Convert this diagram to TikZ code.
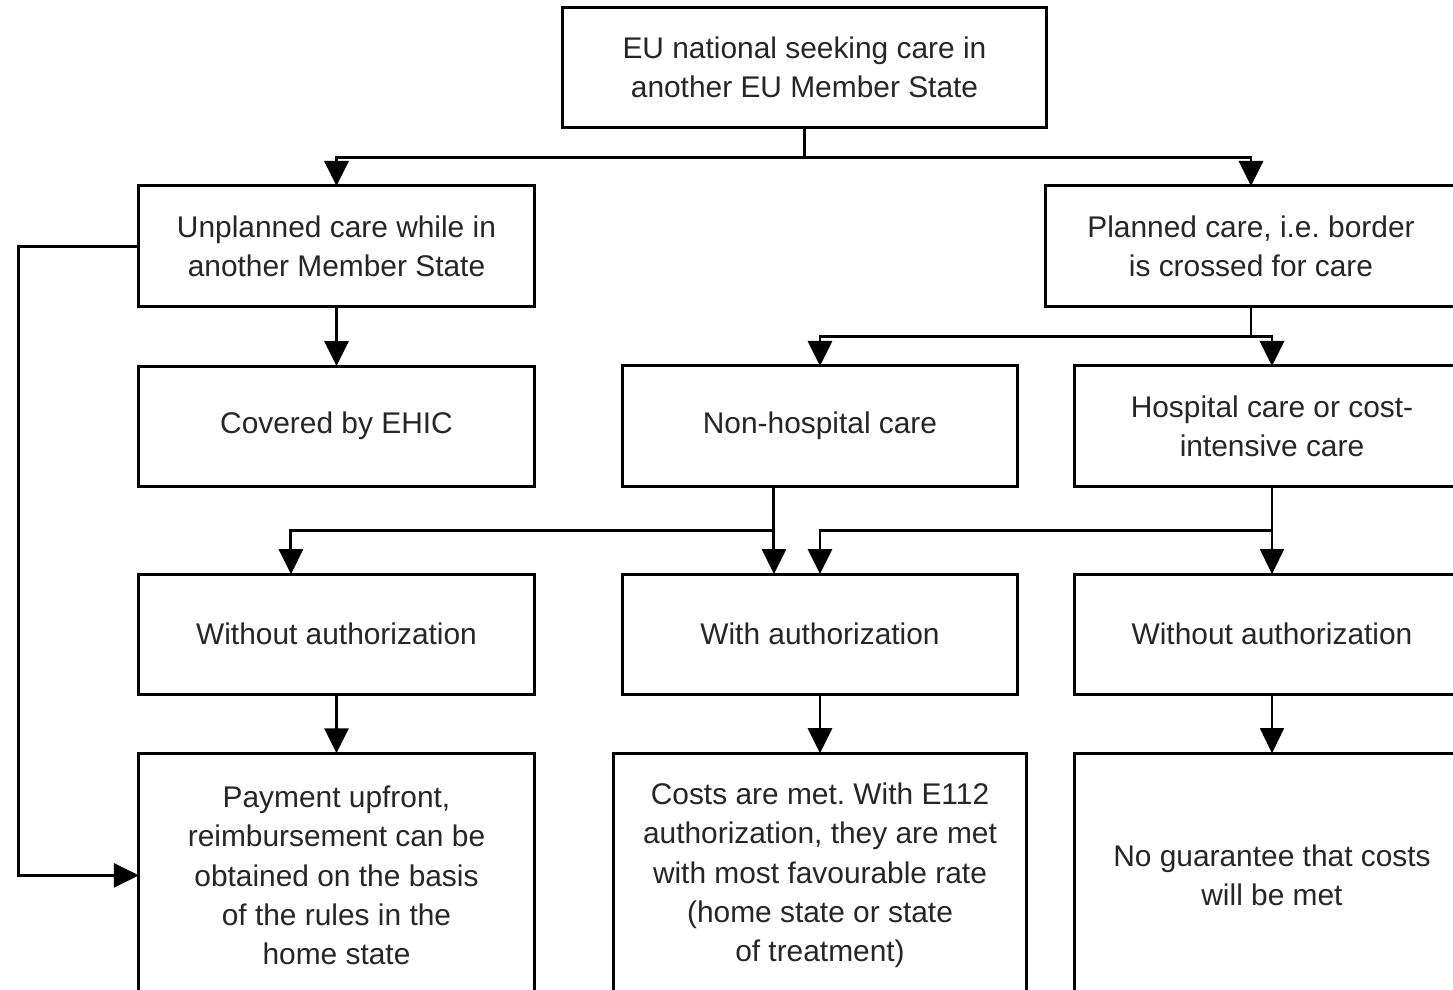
\documentclass[tikz,border=0pt]{standalone}
\usepackage{fontspec}
\setmainfont{Liberation Sans}
\frenchspacing
\usetikzlibrary{arrows.meta,positioning}

\tikzset{
	box/.style={draw, line width=0.85pt, minimum width=3.95cm, minimum height=1.2cm,
		inner sep=0pt, outer sep=0pt, align=center, text=black!85,
		font=\fontsize{8.5}{11.2}\selectfont},
	tallbox/.style={box, minimum height=2.44cm},
	wire/.style={line width=0.85pt},
	link/.style={wire, -{Triangle[width=0.24cm,length=0.25cm]}},
	thinlink/.style={line width=0.45pt, -{Triangle[width=0.24cm,length=0.25cm]}},
}

\begin{document}
\begin{tikzpicture}[x=0.01cm, y=-0.01cm]
			\useasboundingbox (0,0) rectangle (1453,990);
			\fill[white] (0,0) rectangle (1453,990);
			%
			\node [box, minimum width=4.83cm, minimum height=1.19cm] (top) at (804.5,67.5) {EU national seeking care in\\another EU Member State};
			\node [box] (unpl) at (336.5,246) {Unplanned care while in\\another Member State};
			\node [box, minimum width=4.1cm] (plan) at (1251,246) {Planned care, i.e. border\\is crossed for care};
			\node [box, below=0.6cm of unpl] (ehic) {Covered by EHIC};
			\node [box, minimum width=3.94cm] (nonh) at (820,426) {Non-hospital care};
			\node [box, minimum width=3.94cm] (hosp) at (1272,426) {Hospital care or cost-\\intensive care};
			\node [box, below=0.88cm of ehic] (woL) {Without authorization};
			\node [box, minimum width=3.94cm, below=0.88cm of nonh] (with) {With authorization};
			\node [box, minimum width=3.94cm, below=0.88cm of hosp] (woR) {Without authorization};
			\node [tallbox, below=0.59cm of woL] (pay) {Payment upfront,\\reimbursement can be\\obtained on the basis\\of the rules in the\\home state};
			\node [tallbox, minimum width=4.12cm, below=0.59cm of with] (cost) {Costs are met. With E112\\authorization, they are met\\with most favourable rate\\(home state or state\\of treatment)};
			\node [tallbox, minimum width=3.94cm, below=0.59cm of woR] (nog) {No guarantee that costs\\will be met};
			%
			\draw [wire] (top.south) -- ++(0,30) coordinate (t1);
			\draw [link] (t1) -| (unpl.north);
			\draw [link] (t1) -| (plan.north);
			\draw [link] (unpl) -- (ehic);
			\draw [link] (unpl.west) -- ++(-120,0) |- (pay.west);
			%
			\draw [wire] (plan.south) -- ++(0,30) coordinate (p1);
			\draw [link] (p1) -| (nonh.north);
			\draw [link] (p1) -| (hosp.north);
			%
			\path ([xshift=-0.46cm]nonh.south) coordinate (na) ++(0,44) coordinate (nb);
			\draw [link] (na) -- (na |- with.north);
			\draw [link] (nb) -| ([xshift=-0.455cm]woL.north);
			\draw [wire] (hosp.south) -- ++(0,44) coordinate (hb);
			\draw [link] (hb) -| (with.north);
			\draw [thinlink] (hb) -- (woR.north);
			%
			\draw [link] (woL) -- (pay);
			\draw [link] (with) -- (cost);
			\draw [thinlink] (woR) -- (nog);
		\end{tikzpicture}
\end{document}
